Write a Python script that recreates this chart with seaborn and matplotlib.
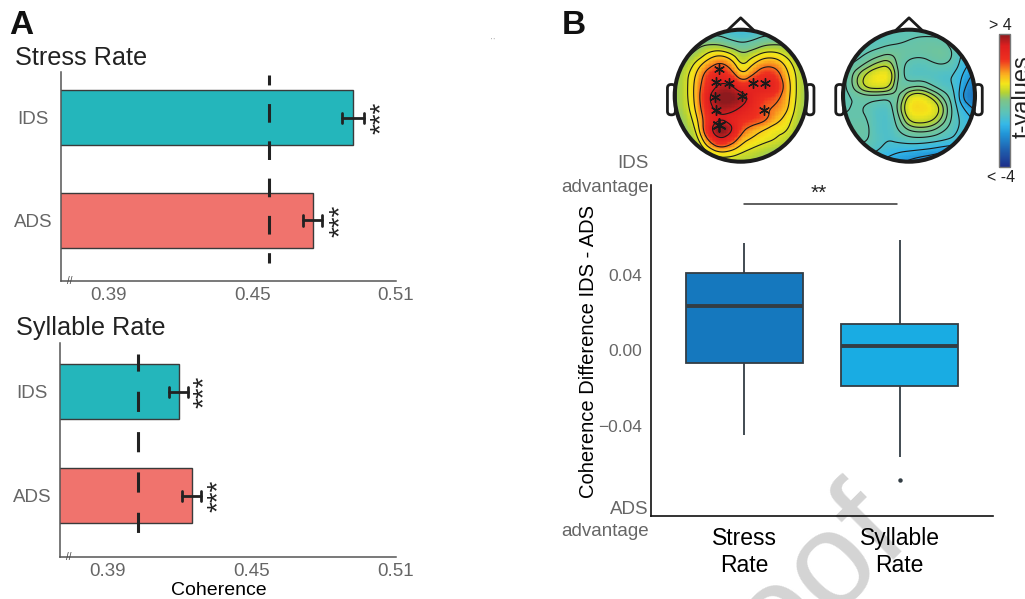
"""Coherence bars, topographies and difference boxplot."""

import matplotlib

matplotlib.use("Agg")

import matplotlib.pyplot as plt
import numpy as np
import pandas as pd
import seaborn as sns
from matplotlib.colors import LinearSegmentedColormap
from matplotlib.patches import Circle, FancyBboxPatch

W, H = 1025, 599

conditions = ["IDS", "ADS"]
stress_coherence = [0.4919, 0.4752]
stress_err_low = [0.4873, 0.4710]
stress_err_high = [0.4966, 0.4792]
stress_chance = 0.457
syllable_coherence = [0.4194, 0.4248]
syllable_err_low = [0.4156, 0.4210]
syllable_err_high = [0.4233, 0.4286]
syllable_chance = 0.4023
coherence_ticks = [0.39, 0.41, 0.43, 0.45, 0.47, 0.49, 0.51]
coherence_labels = ["0.39", "", "", "0.45", "", "", "0.51"]

box_names = ["Stress\nRate", "Syllable\nRate"]
# whisker low, q1, median, q3, whisker high
stress_box = [-0.0449, -0.0069, 0.0236, 0.0408, 0.0567]
syllable_box = [-0.0567, -0.0188, 0.0023, 0.0141, 0.0584]
syllable_outlier = [-0.0687]
diff_ticks = [-0.06, -0.04, -0.02, 0.0, 0.02, 0.04, 0.06]
diff_labels = ["", "\u22120.04", "", "0.00", "", "0.04", ""]

# t-values read on a coarse electrode grid, top row first
stress_topo = [
    [-0.9, -0.9, -0.9, -0.9, -1.0, -1.2, -1.3, -1.2, -1.0, -0.9, -0.9, -0.9, -0.9],
    [0.0, 0.0, 0.0, 0.0, -0.1, -0.5, -0.7, -0.5, -0.1, 0.0, 0.0, 0.0, 0.0],
    [0.0, 0.0, 0.3, 0.9, 1.1, 0.8, 0.2, 0.5, 0.9, 0.9, 0.6, 0.1, 0.0],
    [0.1, 0.4, 1.1, 1.7, 2.2, 1.7, 0.6, 1.3, 1.8, 1.8, 1.2, 0.5, 0.1],
    [0.2, 0.7, 1.5, 2.6, 3.0, 2.4, 1.3, 2.0, 2.7, 2.5, 1.5, 0.7, 0.1],
    [0.2, 0.7, 1.7, 2.9, 3.6, 3.6, 2.6, 3.1, 3.3, 3.1, 1.7, 0.7, 0.1],
    [0.2, 0.7, 1.7, 3.5, 4.2, 4.2, 3.9, 3.0, 2.5, 2.3, 1.6, 0.7, 0.1],
    [0.2, 0.6, 1.6, 3.2, 3.8, 3.7, 3.3, 2.8, 2.1, 1.9, 1.5, 0.6, 0.1],
    [0.1, 0.4, 1.3, 2.8, 3.2, 3.0, 2.7, 2.5, 2.3, 1.6, 1.1, 0.5, 0.1],
    [0.0, 0.2, 1.0, 3.2, 4.6, 3.8, 2.1, 1.6, 1.2, 0.9, 0.9, 0.3, 0.0],
    [0.0, 0.0, 0.6, 2.0, 3.2, 2.4, 1.4, 1.1, 0.9, 0.8, 0.5, 0.1, 0.0],
    [0.0, 0.0, 0.2, 0.8, 1.2, 1.1, 0.8, 0.6, 0.4, 0.2, 0.0, 0.0, 0.0],
    [0.1, 0.1, 0.2, 0.3, 0.4, 0.4, 0.3, 0.3, 0.2, 0.1, 0.1, 0.1, 0.1],
]
syllable_topo = [
    [-0.8, -0.8, -0.8, -0.8, -0.7, -0.7, -0.7, -0.7, -0.7, -0.7, -0.8, -0.8, -0.8],
    [-0.8, -0.8, -0.8, -0.8, -0.7, -0.6, -0.5, -0.4, -0.4, -0.5, -0.8, -0.8, -0.8],
    [-0.8, -0.8, -0.6, -0.4, -0.2, -0.3, -0.4, -0.4, -0.3, -0.2, -0.6, -1.2, -1.4],
    [-0.7, -0.5, -0.1, 0.3, 0.5, -0.4, -0.7, -0.8, -0.6, -0.5, -0.7, -1.4, -1.7],
    [-0.7, 0.1, 0.7, 1.1, 1.1, -0.3, -0.9, -0.9, -0.9, -1.0, -1.0, -1.7, -2.2],
    [-0.7, 0.1, 0.8, 0.9, 0.8, -0.5, -0.3, -0.2, -0.6, -0.9, -1.0, -2.0, -2.6],
    [-0.7, -0.5, -0.4, -0.4, -0.5, -0.2, 0.9, 1.0, 0.5, -0.2, -0.9, -2.4, -2.8],
    [-0.6, -0.5, -0.6, -0.9, -0.9, 0.1, 1.2, 1.2, 1.1, 0.3, -0.8, -1.6, -2.2],
    [-0.5, -0.5, -0.5, -0.9, -1.0, -0.2, 0.8, 0.9, 0.7, 0.1, -0.8, -1.2, -1.6],
    [-0.5, -0.4, -0.4, -0.9, -1.0, -0.5, -0.1, 0.0, -0.1, -0.5, -0.9, -1.2, -1.4],
    [-0.5, -0.5, -0.5, -0.8, -1.0, -0.9, -0.8, -0.8, -0.9, -1.0, -1.1, -1.4, -1.6],
    [-0.7, -0.7, -0.8, -1.0, -1.3, -1.5, -1.6, -1.7, -1.8, -2.0, -2.2, -2.4, -2.6],
    [-1.4, -1.4, -1.5, -1.6, -1.8, -2.0, -2.2, -2.4, -2.6, -2.8, -2.8, -2.8, -2.8],
]
stress_levels = [-0.6, 0.2, 0.8, 1.3, 2.0, 3.4]
syllable_levels = [-2.0, -1.5, -1.0, -0.55, -0.15, 0.2, 0.55]
# significant electrodes, in head radii from the centre
star_x = [-0.33, -0.37, -0.17, 0.19, 0.37, -0.39, 0.02, -0.37, 0.36, -0.33]
star_y = [-0.41, -0.20, -0.19, -0.19, -0.19, 0.02, 0.01, 0.22, 0.22, 0.44]

colorbar_stops = [
    (0.0, "#1e2f8a"), (0.125, "#1f5fae"), (0.25, "#2196d8"), (0.32, "#35b8e8"),
    (0.41, "#5cc3b8"), (0.5, "#7cc48a"), (0.56, "#b5d334"), (0.625, "#f4e61a"),
    (0.69, "#fbb61f"), (0.75, "#f5701f"), (0.81, "#ee2f1f"), (0.91, "#df1f1f"),
    (1.0, "#8e1a1e"),
]

TEAL = "#24b6bb"
SALMON = "#f0736d"
GREY_TEXT = "#666666"
DARK = "#222222"
FONT = ["Liberation Sans", "DejaVu Sans"]


def axes_px(figure, left, top, right, bottom):
    return figure.add_axes([left / W, 1 - bottom / H, (right - left) / W, (bottom - top) / H])


def draw_coherence_bars(ax, values, err_low, err_high, chance, ylim, span, dash, star_pos):
    plot_df = pd.DataFrame({"condition": conditions, "coherence": values})
    sns.barplot(data=plot_df, x="coherence", y="condition", hue="condition", orient="h",
                palette=[TEAL, SALMON], saturation=1, width=0.53, edgecolor="#3a3a3a", linewidth=1.0,
                legend=False, ax=ax)
    ax.set_xlim(0.37, 0.51)
    ax.set_ylim(*ylim)
    ax.set_xlabel("")
    ax.set_ylabel("")
    ax.plot([chance, chance], span, color=DARK, linewidth=2.2, linestyle=dash,
            dash_capstyle="butt", zorder=4)
    for y, low, high in zip(range(2), err_low, err_high):
        ax.plot([low, high], [y, y], color=DARK, linewidth=2.0, zorder=5)
        for end in (low, high):
            ax.plot([end, end], [y - 0.05, y + 0.05], color=DARK, linewidth=2.0, zorder=5)
    for y, x in enumerate(star_pos):
        ax.text(x, y, "***", rotation=90, ha="center", va="center", fontsize=20, color=DARK)
    ax.set_xticks(coherence_ticks, coherence_labels)
    ax.tick_params(axis="x", direction="in", length=3, width=0.8, color="#555555",
                   labelsize=13.5, labelcolor=GREY_TEXT, pad=4)
    ax.tick_params(axis="y", length=0, labelsize=13.5, labelcolor=GREY_TEXT, pad=20)
    for label in ax.get_yticklabels():
        label.set_ha("center")
    sns.despine(ax=ax)
    for side in ("left", "bottom"):
        ax.spines[side].set_color("#555555")
        ax.spines[side].set_linewidth(1.1)
    ax.text(0.3735, 0, "//", transform=ax.get_xaxis_transform(), ha="center", va="center",
            fontsize=7, color="#444444")


def smooth_grid(grid, factor=8):
    fine = np.kron(np.asarray(grid, dtype=float), np.ones((factor, factor)))
    kernel = np.ones(factor) / factor

    def blur(line):
        padded = np.pad(line, factor, mode="edge")
        return np.convolve(padded, kernel, mode="same")[factor:-factor]

    for _ in range(2):
        fine = np.apply_along_axis(blur, 0, fine)
        fine = np.apply_along_axis(blur, 1, fine)
    return fine


def draw_head(ax, grid, levels, cmap, stars=False):
    fine = smooth_grid(grid)
    n = fine.shape[0]
    mid = n / 2
    radius = mid * 66 / 71.5
    sns.heatmap(fine, cmap=cmap, vmin=-4, vmax=4, cbar=False, xticklabels=False,
                yticklabels=False, ax=ax, rasterized=True)
    circle = Circle((mid, mid), radius, transform=ax.transData)
    ax.collections[0].set_clip_path(circle)
    centres = np.arange(n) + 0.5
    lines = ax.contour(centres, centres, fine, levels=levels, colors="#1a1a1a", linewidths=0.8,
                       linestyles="solid")
    lines.set_clip_path(circle)
    ax.set_xlim(0, n)
    ax.set_ylim(n, 0)
    ax.axis("off")

    outline = "#1c1c1c"
    for side in (-1, 1):
        left_edge = mid + side * 1.05 * radius - 0.06 * radius
        ear = FancyBboxPatch((left_edge, mid - 0.17 * radius), 0.12 * radius, 0.46 * radius,
                             boxstyle=f"round,pad=0,rounding_size={0.055 * radius}",
                             facecolor="white", edgecolor=outline, linewidth=2.0,
                             clip_on=False, zorder=2)
        ax.add_patch(ear)
    ax.plot([mid - 0.2 * radius, mid, mid + 0.2 * radius],
            [mid - 0.99 * radius, mid - 1.18 * radius, mid - 0.99 * radius],
            color=outline, linewidth=2.0, clip_on=False, zorder=3)
    ax.add_patch(Circle((mid, mid), radius, fill=False, edgecolor=outline, linewidth=2.9,
                        clip_on=False, zorder=4))
    if stars:
        px = mid + np.array(star_x) * radius
        py = mid + np.array(star_y) * radius
        ax.scatter(px[:-1], py[:-1], marker=(6, 2, 0), s=50, color="#1a1a1a", linewidth=1.0, zorder=5)
        ax.scatter(px[-1:], py[-1:], marker=(6, 2, 0), s=85, color="#1a1a1a", linewidth=1.3, zorder=5)


def draw_box_panel(ax):
    names = box_names[0:1] * len(stress_box) + box_names[1:] * len(syllable_box)
    box_df = pd.DataFrame({"rate": names, "difference": stress_box + syllable_box})
    sns.boxplot(data=box_df, x="rate", y="difference", hue="rate", saturation=1,
                palette=["#1578be", "#19ace3"], width=0.755, whis=np.inf, showcaps=False,
                linecolor="#333d44", linewidth=1.3, medianprops={"linewidth": 2.8},
                legend=False, ax=ax)
    outlier_df = pd.DataFrame({"rate": box_names[1], "difference": syllable_outlier})
    sns.stripplot(data=outlier_df, x="rate", y="difference", order=box_names, color="#333d44",
                  size=3.2, jitter=False, ax=ax)
    ax.set_xlim(-0.6, 1.6)
    ax.set_ylim(-0.088, 0.0876)
    ax.set_yticks(diff_ticks, diff_labels)
    ax.set_xlabel("")
    ax.set_ylabel("Coherence Difference IDS - ADS", fontsize=14.5, color="black")
    ax.yaxis.set_label_coords((598 - 651) / (993 - 651), 0.497)
    ax.tick_params(axis="y", length=3, width=0.9, labelsize=12.5, labelcolor=GREY_TEXT, pad=3.5)
    ax.tick_params(axis="x", length=2.5, width=0.9, labelsize=16.5, labelcolor="black", pad=5)
    for label in ax.get_xticklabels():
        label.set_linespacing(1.25)
    ax.plot([0.0, 0.985], [0.0775, 0.0775], color="#333333", linewidth=1.1)
    ax.text(0.48, 0.083, "**", ha="center", va="center", fontsize=15, color=DARK)
    sns.despine(ax=ax)
    for side in ("left", "bottom"):
        ax.spines[side].set_linewidth(1.2)
        ax.spines[side].set_color("#111111")
    ax.patch.set_alpha(0)


def main():
    sns.set_theme(style="white")
    plt.rcParams["font.family"] = FONT
    figure = plt.figure(figsize=(W / 100, H / 100), dpi=100)

    figure.text(909 / W, 1 - 534 / H, "Proof", rotation=45, rotation_mode="anchor", ha="right",
                va="baseline", fontsize=97, color="#d4d4d4", zorder=-1)

    ax_stress = axes_px(figure, 61, 72, 396, 281)
    draw_coherence_bars(ax_stress, stress_coherence, stress_err_low, stress_err_high, stress_chance,
                        (1.59, -0.445), [-0.416, 1.416], (2.85, (6.1, 6.1)), [0.5042, 0.4867])
    ax_syllable = axes_px(figure, 60, 343, 396, 557)
    draw_coherence_bars(ax_syllable, syllable_coherence, syllable_err_low, syllable_err_high,
                        syllable_chance, (1.59, -0.47), [-0.36, 1.37], (1.0, (6.6, 6.6)),
                        [0.4303, 0.4363])
    ax_syllable.set_xlabel("Coherence", fontsize=14, color="black")
    ax_syllable.xaxis.set_label_coords(0.473, -0.115)
    ax_box = axes_px(figure, 651, 185, 993, 516.3)
    draw_box_panel(ax_box)

    cmap = LinearSegmentedColormap.from_list("tvals", colorbar_stops)
    head_left = axes_px(figure, 669.2, 24.2, 812.2, 167.2)
    draw_head(head_left, stress_topo, stress_levels, cmap, stars=True)
    head_right = axes_px(figure, 837.5, 24.2, 980.5, 167.2)
    draw_head(head_right, syllable_topo, syllable_levels, cmap)

    cax = axes_px(figure, 999.3, 34, 1010, 167)
    sm = plt.cm.ScalarMappable(norm=plt.Normalize(-4, 4), cmap=cmap)
    bar = figure.colorbar(sm, cax=cax)
    bar.set_ticks(range(-4, 5), labels=[""] * 9)
    bar.ax.tick_params(direction="in", length=2.5, width=0.6, color="#444444", pad=0)
    bar.outline.set_edgecolor("#777777")
    bar.outline.set_linewidth(1.0)

    def put(x, y, text, **kwargs):
        figure.text(x / W, 1 - y / H, text, **kwargs)

    put(9, 25, "A", fontsize=24, fontweight="bold", color="#111111", va="center")
    put(562, 25, "B", fontsize=24, fontweight="bold", color="#111111", va="center")
    put(15, 58, "Stress Rate", fontsize=18.2, color=DARK, va="center")
    put(16, 328, "Syllable Rate", fontsize=18.2, color=DARK, va="center")
    put(1000, 25, "> 4", fontsize=11.5, color=DARK, ha="center", va="center")
    put(1001, 178, "< -4", fontsize=11.5, color=DARK, ha="center", va="center")
    put(1023, 97, "t-values", fontsize=17, color=DARK, rotation=90, ha="center", va="center")
    put(649, 163, "IDS", fontsize=13.5, color=GREY_TEXT, ha="right", va="center")
    put(649, 187, "advantage", fontsize=13.5, color=GREY_TEXT, ha="right", va="center")
    put(649, 510, "ADS", fontsize=13.5, color=GREY_TEXT, ha="right", va="center")
    put(649, 532, "advantage", fontsize=13.5, color=GREY_TEXT, ha="right", va="center")
    put(493, 40, "' '", fontsize=4, color="#777777", ha="center", va="center")

    figure.savefig("out.png", dpi=100)
    plt.close(figure)


main()
